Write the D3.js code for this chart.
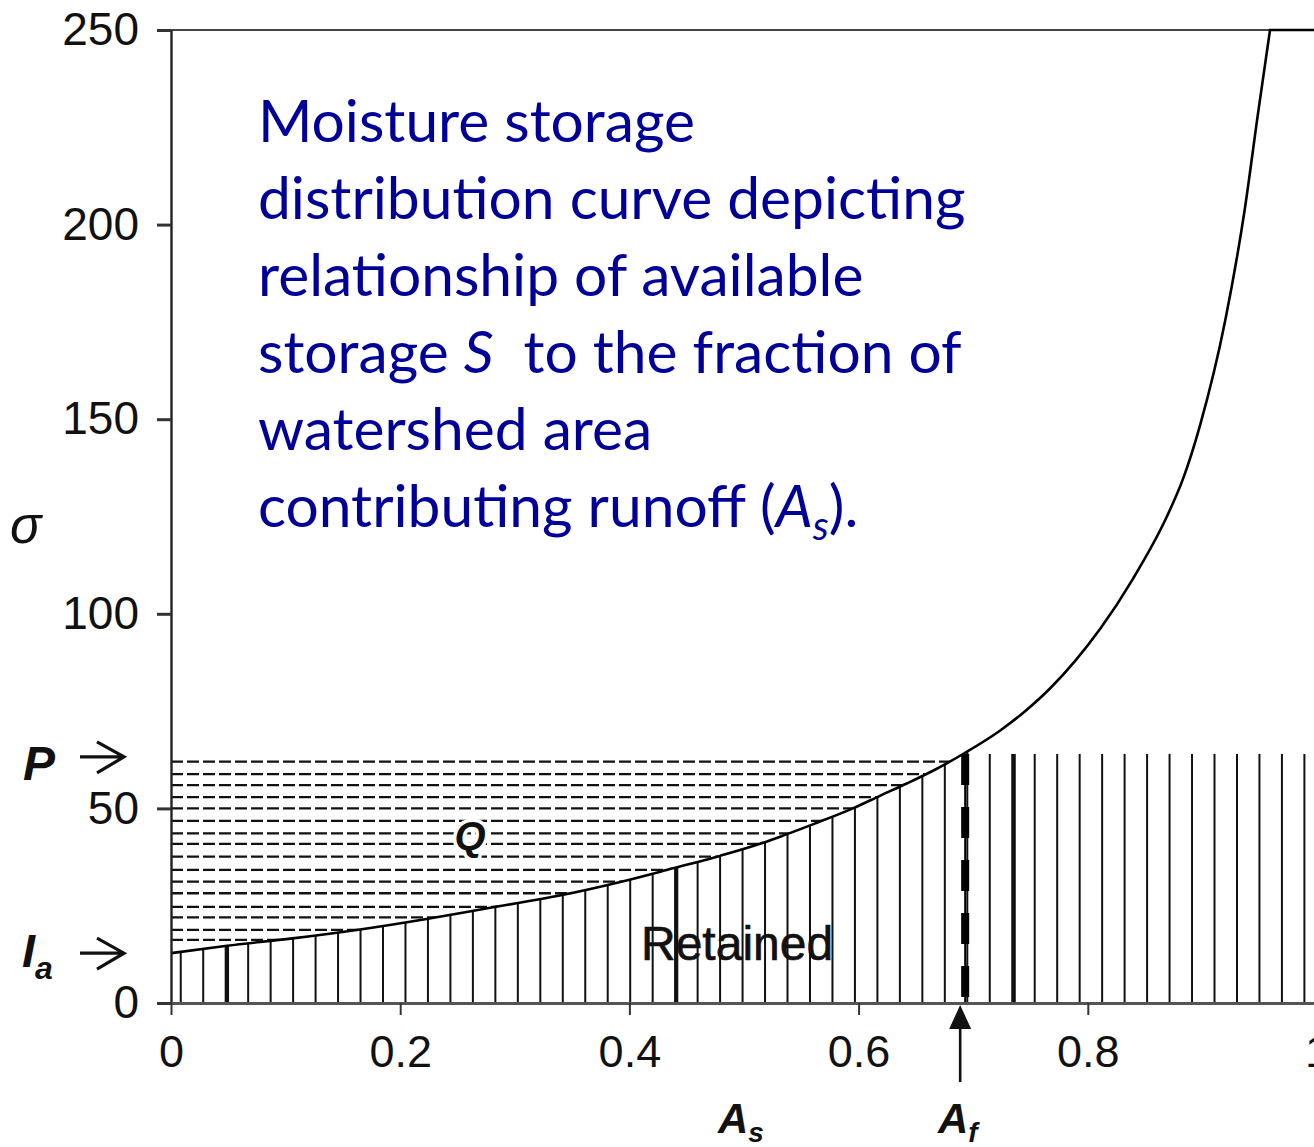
<!DOCTYPE html>
<html>
<head>
<meta charset="utf-8">
<script src="https://cdn.jsdelivr.net/npm/d3@7"></script>
<style>
  html, body { margin: 0; padding: 0; background: #fff; }
  svg { display: block; }
  text { white-space: pre; }
</style>
</head>
<body>
<svg id="chart" width="1314" height="1147"></svg>
<script>
// Fraction of watershed area (x) and available storage sigma (y) along the distribution curve
const areaFrac = [0, 0.049, 0.106, 0.165, 0.223, 0.281, 0.339, 0.392, 0.438, 0.479, 0.514, 0.534, 0.560, 0.595, 0.619, 0.642, 0.667, 0.693, 0.723, 0.745, 0.767, 0.789, 0.811, 0.839, 0.869, 0.883, 0.898, 0.920, 0.937, 0.9485, 0.959];
const storage  = [12.8, 14.7, 16.6, 18.9, 21.6, 24.6, 27.6, 31.1, 34.6, 37.8, 40.9, 43.0, 45.9, 50.0, 53.3, 56.4, 60.0, 64.3, 69.9, 74.9, 80.8, 87.9, 96.2, 108.8, 125.0, 134.6, 148.5, 175.5, 204.0, 228.5, 250];
// Beyond the last point the curve stays at the top of the scale
const plateauEnd = 1.0;

// Rainfall / initial abstraction / saturated fraction
const Ia = 12.8;
const P = 64;
const Af = 0.693;

// Levels of the dashed lines filling the runoff (Q) region
const runoffLevels = [62.0, 58.8, 56.0, 52.9, 50.0, 46.8, 43.6, 40.9, 37.6, 34.2, 31.2, 28.2, 24.7, 22.0, 18.8, 16.2];

// Vertical hatching of the retained region
const hatchStart = 0.0085;
const hatchStep = 0.01961;
const boldHatch = [0.049, 0.441, 0.7355];

const yTicks = [0, 50, 100, 150, 200, 250];
const xTicks = [0, 0.2, 0.4, 0.6, 0.8, 1];
const xTickLabels = ["0", "0.2", "0.4", "0.6", "0.8", "1"];

const noteLines = [
  [{t: "Moisture storage"}],
  [{t: "distribution curve depicting"}],
  [{t: "relationship of available"}],
  [{t: "storage "}, {t: "S", i: true}, {t: "  to the fraction of"}],
  [{t: "watershed area"}],
  [{t: "contributing runoff ("}, {t: "A", i: true}, {t: "s", i: true, sub: true}, {t: ")."}]
];

const svg = d3.select("#chart");
const axisFont = "'Liberation Sans', Arial, Helvetica, sans-serif";

const x = d3.scaleLinear().domain([0, 1]).range([171, 1317]);
const y = d3.scaleLinear().domain([0, 250]).range([1003, 30]);

const pts = areaFrac.map((a, i) => [a, storage[i]]);
const last = pts[pts.length - 1];
const fullPts = pts.concat([[plateauEnd, last[1]]]);

const line = d3.line().x(d => x(d[0])).y(d => y(d[1])).curve(d3.curveMonotoneX);
const curvePath = line(pts) + `L${x(plateauEnd)},${y(last[1])}`;
const under = d3.area().x(d => x(d[0])).y0(y(0)).y1(d => y(d[1])).curve(d3.curveMonotoneX);
const above = d3.area().x(d => x(d[0])).y0(y(250)).y1(d => y(d[1])).curve(d3.curveMonotoneX);

const defs = svg.append("defs");
defs.append("clipPath").attr("id", "underCurve").append("path").attr("d", under(fullPts));
defs.append("clipPath").attr("id", "aboveCurve").append("path").attr("d", above(fullPts));

// Top frame line
svg.append("line")
  .attr("x1", x(0)).attr("x2", 1314)
  .attr("y1", y(250)).attr("y2", y(250))
  .attr("stroke", "#444").attr("stroke-width", 2);

// Retained region hatching
const hatch = d3.range(0, 51).map(i => hatchStart + i * hatchStep);
const hatchG = svg.append("g").attr("stroke", "#111");
const leftHatch = hatchG.append("g").attr("clip-path", "url(#underCurve)");
leftHatch.selectAll("line")
  .data(hatch.filter(h => h <= Af + 0.004))
  .join("line")
  .attr("x1", d => x(d)).attr("x2", d => x(d))
  .attr("y1", y(0)).attr("y2", y(250))
  .attr("stroke-width", 2);
leftHatch.selectAll("line.bold")
  .data(boldHatch.filter(h => h <= Af))
  .join("line").attr("class", "bold")
  .attr("x1", d => x(d)).attr("x2", d => x(d))
  .attr("y1", y(0)).attr("y2", y(250))
  .attr("stroke-width", 3.8);
hatchG.append("g").selectAll("line")
  .data(hatch.filter(h => h > Af + 0.004))
  .join("line")
  .attr("x1", d => x(d)).attr("x2", d => x(d))
  .attr("y1", y(0)).attr("y2", y(P))
  .attr("stroke-width", 2);
hatchG.append("g").selectAll("line")
  .data(boldHatch.filter(h => h > Af))
  .join("line")
  .attr("x1", d => x(d)).attr("x2", d => x(d))
  .attr("y1", y(0)).attr("y2", y(P))
  .attr("stroke-width", 3.8);

// Runoff region dashed lines
svg.append("g").attr("clip-path", "url(#aboveCurve)")
  .selectAll("line")
  .data(runoffLevels)
  .join("line")
  .attr("x1", x(0)).attr("x2", x(Af))
  .attr("y1", d => y(d)).attr("y2", d => y(d))
  .attr("stroke", "#111").attr("stroke-width", 2.3)
  .attr("stroke-dasharray", "12,4");

// Saturated fraction marker
svg.append("line")
  .attr("x1", x(Af)).attr("x2", x(Af))
  .attr("y1", y(P)).attr("y2", y(0))
  .attr("stroke", "#000").attr("stroke-width", 2);
svg.append("line")
  .attr("x1", x(Af)).attr("x2", x(Af))
  .attr("y1", y(P)).attr("y2", y(0) - 6)
  .attr("stroke", "#000").attr("stroke-width", 8)
  .attr("stroke-dasharray", "31,22");

// Distribution curve
svg.append("path")
  .attr("d", curvePath)
  .attr("fill", "none").attr("stroke", "#000").attr("stroke-width", 2.6)
  .attr("stroke-linejoin", "miter");

// Axes
const yAxis = svg.append("g")
  .attr("transform", `translate(${x(0)},0)`)
  .call(d3.axisLeft(y).tickValues(yTicks).tickSize(14).tickSizeOuter(0).tickPadding(18));
yAxis.select(".domain").attr("stroke", "#222").attr("stroke-width", 2.4);
yAxis.selectAll(".tick line").attr("stroke", "#333").attr("stroke-width", 3);
yAxis.selectAll("text").attr("font-family", axisFont).attr("font-size", 46).attr("fill", "#111");

const xAxis = svg.append("g")
  .attr("transform", `translate(0,${y(0)})`)
  .call(d3.axisBottom(x).tickValues(xTicks).tickFormat((d, i) => xTickLabels[i]).tickSize(12).tickSizeOuter(0).tickPadding(20));
xAxis.select(".domain").attr("stroke", "#555").attr("stroke-width", 3);
xAxis.selectAll(".tick line").attr("stroke", "#333").attr("stroke-width", 2);
xAxis.selectAll("text").attr("font-family", axisFont).attr("font-size", 45).attr("fill", "#111");

// Axis symbol
svg.append("text")
  .attr("x", 10).attr("y", 543)
  .attr("font-family", axisFont).attr("font-style", "italic").attr("font-size", 52)
  .attr("fill", "#111").text("σ");

// Left side arrows for P and Ia
function sideArrow(yy) {
  svg.append("path")
    .attr("d", `M80,${yy}H124M97,${yy - 15}L124,${yy}L97,${yy + 16}`)
    .attr("fill", "none").attr("stroke", "#111").attr("stroke-width", 3.2)
    .attr("stroke-linejoin", "miter");
}
sideArrow(y(P) + 3);
sideArrow(y(Ia));

svg.append("text")
  .attr("x", 23).attr("y", 780)
  .attr("font-family", axisFont).attr("font-style", "italic").attr("font-weight", "bold")
  .attr("font-size", 48).attr("fill", "#111").text("P");

const iaLabel = svg.append("text")
  .attr("x", 22).attr("y", 967)
  .attr("font-family", axisFont).attr("font-style", "italic").attr("font-weight", "bold")
  .attr("font-size", 47).attr("fill", "#111");
iaLabel.append("tspan").text("I");
iaLabel.append("tspan").attr("font-size", 32).attr("dy", 12).text("a");

// Region labels
svg.append("text")
  .attr("x", 470).attr("y", 850)
  .attr("text-anchor", "middle")
  .attr("font-family", axisFont).attr("font-style", "italic").attr("font-weight", "bold")
  .attr("font-size", 40).attr("fill", "#111")
  .attr("stroke", "#fff").attr("stroke-width", 7).attr("paint-order", "stroke")
  .text("Q");

svg.append("text")
  .attr("x", 641).attr("y", 960)
  .attr("font-family", axisFont).attr("font-size", 48).attr("fill", "#111")
  .attr("stroke", "#111").attr("stroke-width", 0.6)
  .text("Retained");

// Arrow marking the saturated fraction under the axis
const ax = x(Af) - 5;
svg.append("line")
  .attr("x1", ax).attr("x2", ax).attr("y1", 1082).attr("y2", 1024)
  .attr("stroke", "#111").attr("stroke-width", 2.6);
svg.append("path")
  .attr("d", `M${ax},1005L${ax - 11},1029L${ax + 11},1029Z`)
  .attr("fill", "#111");

function areaLabel(xx, sub) {
  const t = svg.append("text")
    .attr("x", xx).attr("y", 1133)
    .attr("font-family", axisFont).attr("font-style", "italic").attr("font-weight", "bold")
    .attr("font-size", 42).attr("fill", "#111");
  t.append("tspan").text("A");
  t.append("tspan").attr("font-size", 28).attr("dy", 9).text(sub);
}
areaLabel(718, "s");
areaLabel(938, "f");

// Blue annotation
const noteFont = "Lato, 'Open Sans', sans-serif";
const note = svg.append("text")
  .attr("font-family", noteFont).attr("fill", "#000099");
noteLines.forEach((parts, li) => {
  const base = 142 + li * 77;
  let first = true;
  parts.forEach(p => {
    const ts = note.append("tspan").text(p.t);
    if (first) { ts.attr("x", 258).attr("y", base); first = false; }
    if (p.i) ts.attr("font-style", "italic");
    if (p.sub) ts.attr("font-size", "0.68em").attr("y", base + 13);
    else ts.attr("y", base);
  });
});
// Size the annotation so the first line spans its intended width
note.attr("font-size", 60);
const firstLen = note.select("tspan").node().getComputedTextLength();
note.attr("font-size", 60 * 437 / firstLen);
</script>
</body>
</html>
